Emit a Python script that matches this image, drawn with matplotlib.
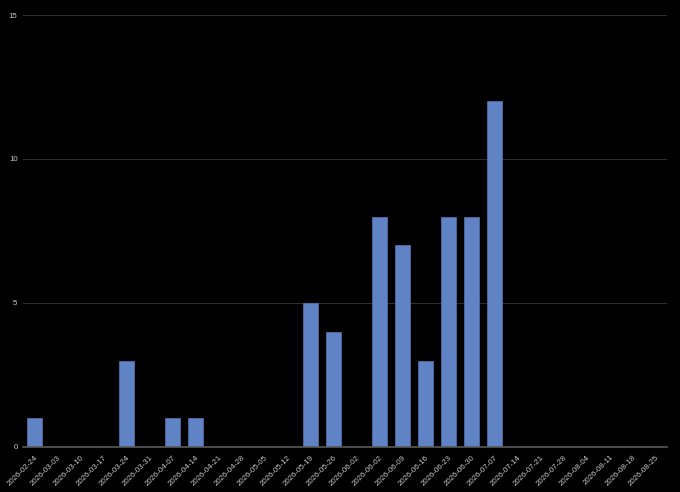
import matplotlib
matplotlib.use("Agg")
import matplotlib.pyplot as plt
import matplotlib.transforms as mtransforms

plt.rcParams["font.family"] = ["Liberation Sans", "DejaVu Sans"]

weeks = ["2026-02-24", "2026-03-03", "2026-03-10", "2026-03-17", "2026-03-24",
         "2026-03-31", "2026-04-07", "2026-04-14", "2026-04-21", "2026-04-28",
         "2026-05-05", "2026-05-12", "2026-05-19", "2026-05-26", "2026-06-02",
         "2026-06-02", "2026-06-09", "2026-06-16", "2026-06-23", "2026-06-30",
         "2026-07-07", "2026-07-14", "2026-07-21", "2026-07-28", "2026-08-04",
         "2026-08-11", "2026-08-18", "2026-08-25"]
counts = [1, 0, 0, 0, 3, 0, 1, 1, 0, 0, 0, 0, 5, 4, 0,
          8, 7, 3, 8, 8, 12, 0, 0, 0, 0, 0, 0, 0]
y_ticks = [0, 5, 10, 15]

fig = plt.figure(figsize=(6.8, 4.92), dpi=100, facecolor="black")
ax = fig.add_axes([0.034, 0.0915, 0.947, 0.878], facecolor="black")

x = list(range(len(weeks)))
ax.bar(x, counts, width=0.64, color="#6083c5", edgecolor="#5576b5",
       linewidth=0.5, zorder=3)

ax.set_xlim(-0.5, len(weeks) - 0.5)
ax.set_ylim(0, 15)
ax.set_yticks(y_ticks)
ax.set_yticklabels([str(t) for t in y_ticks])
ax.set_xticks(x)
ax.set_xticklabels(weeks, rotation=45, ha="right", rotation_mode="anchor")

# nudge the date labels a little to the right, like the original
shift = mtransforms.ScaledTranslation(4 / 100, 0, fig.dpi_scale_trans)
for lab in ax.get_xticklabels():
    lab.set_transform(lab.get_transform() + shift)

ax.grid(axis="y", color="#2e2e2e", linewidth=0.8, zorder=0)
ax.tick_params(axis="both", length=0, labelsize=5.7, colors="#c8c8c8")
ax.tick_params(axis="y", pad=4)
ax.tick_params(axis="x", pad=5)
for side in ["top", "right", "left"]:
    ax.spines[side].set_visible(False)
ax.spines["bottom"].set_color("#595959")
ax.spines["bottom"].set_linewidth(1.2)
ax.spines["bottom"].set_zorder(4)

fig.savefig("out.png", dpi=100, facecolor="black")
